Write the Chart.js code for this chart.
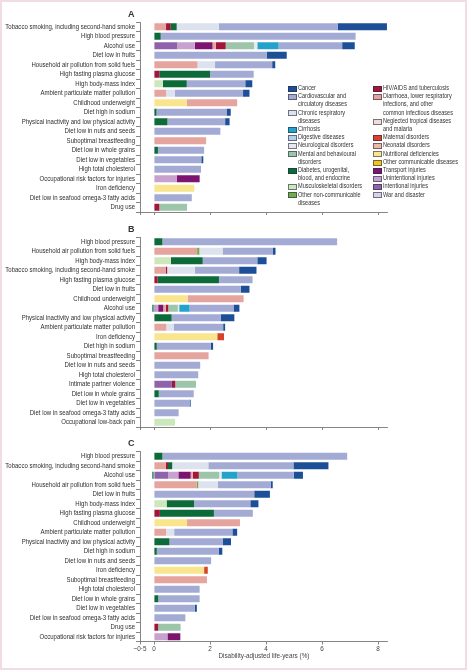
<!DOCTYPE html>
<html>
<head>
<meta charset="utf-8">
<script src="https://cdn.jsdelivr.net/npm/chart.js@4.4.1/dist/chart.umd.min.js"></script>
<style>
  body { margin: 0; background: #fff; }
  #fig { position: relative; width: 467px; height: 670px; overflow: hidden;
         font-family: "Liberation Sans", sans-serif; color: #333; }
  #fig canvas { position: absolute; left: 0; }
  .panel { position: absolute; font-weight: bold; font-size: 9px; }
  .lg { position: absolute; font-size: 6.8px; line-height: 8.2px; white-space: nowrap;
        transform: scaleX(0.82); transform-origin: 0 0; }
  .sw { position: absolute; width: 7px; height: 4px; border: 0.7px solid rgba(40,40,60,0.6); }
  #frame { position: absolute; left: 0; top: 0; right: 0; bottom: 0; border: 2px solid #f1dbe4; pointer-events: none; }
</style>
</head>
<body>
<div id="fig">
  <canvas id="chartA" width="467" height="224" style="top:0"></canvas>
  <canvas id="chartB" width="467" height="225" style="top:215px"></canvas>
  <canvas id="chartC" width="467" height="240" style="top:430px"></canvas>
  <div class="panel" style="left:128px;top:9px">A</div>
  <div class="panel" style="left:128px;top:224px">B</div>
  <div class="panel" style="left:128px;top:438px">C</div>
  <div id="legend"></div>
  <div id="frame"></div>
</div>
<script>
// cause groups (stacking order) and their colours
const causeKeys = ['intent', 'unint', 'transport', 'war', 'nutri', 'maternal', 'diarr', 'hiv', 'neonatal', 'ntd', 'othcomm',
                   'musc', 'diab', 'othncd', 'mental', 'neuro', 'resp', 'digest', 'cirr', 'cvd', 'cancer'];
const causeNames = {
  cancer: 'Cancer', cvd: 'Cardiovascular and\ncirculatory diseases', resp: 'Chronic respiratory\ndiseases',
  cirr: 'Cirrhosis', digest: 'Digestive diseases', neuro: 'Neurological disorders',
  mental: 'Mental and behavioural\ndisorders', diab: 'Diabetes, urogenital,\nblood, and endocrine',
  musc: 'Musculoskeletal disorders', othncd: 'Other non-communicable\ndiseases',
  hiv: 'HIV/AIDS and tuberculosis', diarr: 'Diarrhoea, lower respiratory\ninfections, and other\ncommon infectious diseases',
  ntd: 'Neglected tropical diseases\nand malaria', maternal: 'Maternal disorders', neonatal: 'Neonatal disorders',
  nutri: 'Nutritional deficiencies', othcomm: 'Other communicable diseases', transport: 'Transport injuries',
  unint: 'Unintentional injuries', intent: 'Intentional injuries', war: 'War and disaster'
};
const causeColors = {
  cancer: '#1d4f98', cvd: '#a3abd5', resp: '#dde2ef', cirr: '#23a3cc', digest: '#b4cfe9', neuro: '#e8e9ee',
  mental: '#9cc5a9', diab: '#0d6b3a', musc: '#cde7bd', othncd: '#72ad4b',
  hiv: '#a3163c', diarr: '#e5a49d', ntd: '#f3dcd6', maternal: '#d6422b', neonatal: '#eeb7a6',
  nutri: '#f8e58e', othcomm: '#f0c323', transport: '#7d1470', unint: '#c8a2ce', intent: '#8f63ab', war: '#d9d2e6'
};
const legendCol1 = ['cancer', 'cvd', 'resp', 'cirr', 'digest', 'neuro', 'mental', 'diab', 'musc', 'othncd'];
const legendCol2 = ['hiv', 'diarr', 'ntd', 'maternal', 'neonatal', 'nutri', 'othcomm', 'transport', 'unint', 'intent', 'war'];

const xTicks = [-0.5, 0, 2, 4, 6, 8];

// Panel A
const labelsA = ['Tobacco smoking, including second-hand smoke', 'High blood pressure', 'Alcohol use', 'Diet low in fruits',
  'Household air pollution from solid fuels', 'High fasting plasma glucose', 'High body-mass index',
  'Ambient particulate matter pollution', 'Childhood underweight', 'Diet high in sodium',
  'Physical inactivity and low physical activity', 'Diet low in nuts and seeds', 'Suboptimal breastfeeding',
  'Diet low in whole grains', 'Diet low in vegetables', 'High total cholesterol', 'Occupational risk factors for injuries',
  'Iron deficiency', 'Diet low in seafood omega-3 fatty acids', 'Drug use'];
const valuesA = [
  { diarr: 0.43, hiv: 0.17, diab: 0.21, resp: 1.51, cvd: 4.25, cancer: 1.75 },
  { diab: 0.24, cvd: 6.96 },
  { intent: 0.83, unint: 0.63, transport: 0.63, diarr: 0.12, hiv: 0.35, mental: 1.01, neuro: 0.12, cirr: 0.76, cvd: 2.27, cancer: 0.45 },
  { cvd: 4.03, cancer: 0.71 },
  { diarr: 1.55, resp: 0.63, cvd: 2.04, cancer: 0.11 },
  { hiv: 0.19, diab: 1.81, cvd: 1.56 },
  { musc: 0.32, diab: 0.85, cvd: 2.09, cancer: 0.25 },
  { diarr: 0.43, resp: 0.32, cvd: 2.43, cancer: 0.23 },
  { nutri: 1.17, diarr: 1.8 },
  { diab: 0.09, cvd: 2.5, cancer: 0.15 },
  { diab: 0.48, cvd: 2.06, cancer: 0.16 },
  { cvd: 2.37 },
  { diarr: 1.86 },
  { diab: 0.14, cvd: 1.65 },
  { cvd: 1.69, cancer: 0.07 },
  { cvd: 1.68 },
  { unint: 0.81, transport: 0.82 },
  { nutri: 1.44 },
  { cvd: 1.35 },
  { hiv: 0.19, mental: 0.99 }
];

// Panel B
const labelsB = ['High blood pressure', 'Household air pollution from solid fuels', 'High body-mass index',
  'Tobacco smoking, including second-hand smoke', 'High fasting plasma glucose', 'Diet low in fruits',
  'Childhood underweight', 'Alcohol use', 'Physical inactivity and low physical activity',
  'Ambient particulate matter pollution', 'Iron deficiency', 'Diet high in sodium', 'Suboptimal breastfeeding',
  'Diet low in nuts and seeds', 'High total cholesterol', 'Intimate partner violence', 'Diet low in whole grains',
  'Diet low in vegetables', 'Diet low in seafood omega-3 fatty acids', 'Occupational low-back pain'];
const valuesB = [
  { diab: 0.3, cvd: 6.24 },
  { diarr: 1.54, othncd: 0.08, resp: 0.83, cvd: 1.8, cancer: 0.09 },
  { musc: 0.6, diab: 1.14, cvd: 1.95, cancer: 0.33 },
  { diarr: 0.42, hiv: 0.05, resp: 0.99, cvd: 1.58, cancer: 0.62 },
  { hiv: 0.13, diab: 2.19, cvd: 1.2 },
  { cvd: 3.1, cancer: 0.31 },
  { nutri: 1.2, diarr: 2.0 },
  { diab: -0.06, intent: 0.05, unint: 0.1, transport: 0.18, diarr: 0.09, hiv: 0.09, mental: 0.34, neuro: 0.05, cirr: 0.37, cvd: 1.57, cancer: 0.21 },
  { diab: 0.63, cvd: 1.75, cancer: 0.49 },
  { diarr: 0.44, resp: 0.26, cvd: 1.77, cancer: 0.07 },
  { nutri: 2.26, maternal: 0.24 },
  { diab: 0.1, cvd: 1.93, cancer: 0.08 },
  { diarr: 1.95 },
  { cvd: 1.65 },
  { cvd: 1.58 },
  { intent: 0.64, hiv: 0.12, mental: 0.74 },
  { diab: 0.17, cvd: 1.25 },
  { cvd: 1.27, cancer: 0.04 },
  { cvd: 0.88 },
  { musc: 0.75 }
];

// Panel C
const labelsC = ['High blood pressure', 'Tobacco smoking, including second-hand smoke', 'Alcohol use',
  'Household air pollution from solid fuels', 'Diet low in fruits', 'High body-mass index', 'High fasting plasma glucose',
  'Childhood underweight', 'Ambient particulate matter pollution', 'Physical inactivity and low physical activity',
  'Diet high in sodium', 'Diet low in nuts and seeds', 'Iron deficiency', 'Suboptimal breastfeeding',
  'High total cholesterol', 'Diet low in whole grains', 'Diet low in vegetables',
  'Diet low in seafood omega-3 fatty acids', 'Drug use', 'Occupational risk factors for injuries'];
const valuesC = [
  { diab: 0.3, cvd: 6.6 },
  { diarr: 0.42, hiv: 0.08, diab: 0.15, resp: 1.29, cvd: 3.04, cancer: 1.25 },
  { diab: -0.06, intent: 0.51, unint: 0.36, transport: 0.44, diarr: 0.08, hiv: 0.21, mental: 0.73, neuro: 0.08, cirr: 0.57, cvd: 2.01, cancer: 0.33 },
  { diarr: 1.52, othncd: 0.06, resp: 0.7, cvd: 1.89, cancer: 0.07 },
  { cvd: 3.58, cancer: 0.56 },
  { musc: 0.45, diab: 0.98, cvd: 2.01, cancer: 0.29 },
  { hiv: 0.21, diab: 1.93, cvd: 1.39 },
  { nutri: 1.18, diarr: 1.89 },
  { diarr: 0.43, resp: 0.29, cvd: 2.08, cancer: 0.17 },
  { diab: 0.55, cvd: 1.9, cancer: 0.3 },
  { diab: 0.1, cvd: 2.21, cancer: 0.13 },
  { cvd: 2.04 },
  { nutri: 1.79, maternal: 0.13 },
  { diarr: 1.89 },
  { cvd: 1.63 },
  { diab: 0.15, cvd: 1.48 },
  { cvd: 1.46, cancer: 0.07 },
  { cvd: 1.12 },
  { hiv: 0.15, mental: 0.8 },
  { unint: 0.48, transport: 0.46 }
];

const FONT = '"Liberation Sans", sans-serif';
const AXIS = '#666';

function fmtTick(v) {
  return v < 0 ? '\u2212' + String(-v).replace('.', '\u00b7') : String(v);
}

// no narrow font installed: squeeze canvas text horizontally around its anchor point
const narrowText = {
  id: 'narrowText',
  beforeInit(chart) {
    const ctx = chart.ctx;
    const orig = ctx.fillText.bind(ctx);
    ctx.fillText = (text, x, y) => {
      ctx.save();
      ctx.translate(x, y);
      ctx.scale(0.85, 1);
      orig(text, 0, 0);
      ctx.restore();
    };
  }
};

function makeChart(id, labels, rows, o) {
  const datasets = causeKeys
    .map(k => ({
      label: causeNames[k],
      data: rows.map(r => (k in r ? r[k] : null)),
      backgroundColor: causeColors[k],
      borderWidth: 0,
      barPercentage: 0.74,
      categoryPercentage: 1
    }))
    .filter(d => d.data.some(v => v !== null));

  return new Chart(document.getElementById(id), {
    type: 'bar',
    data: { labels, datasets },
    plugins: [narrowText],
    options: {
      indexAxis: 'y',
      responsive: false,
      animation: false,
      layout: { padding: { top: o.top, right: 79.2, bottom: o.bottom, left: 0 } },
      plugins: { legend: { display: false }, tooltip: { enabled: false } },
      scales: {
        x: {
          type: 'linear', stacked: true, min: -0.5, max: 8.35,
          afterBuildTicks: s => { s.ticks = xTicks.map(v => ({ value: v })); },
          afterFit: s => { s.height = o.xHeight; s.paddingLeft = 0; s.paddingRight = 0; },
          grid: { drawOnChartArea: false, tickLength: 3, color: AXIS, lineWidth: 0.8 },
          border: { color: AXIS, width: 0.8 },
          ticks: { display: o.showTicks, padding: 0, color: '#444', font: { family: FONT, size: 7.5 }, callback: v => fmtTick(v) },
          title: { display: o.showTicks, text: 'Disability-adjusted life-years (%)', color: '#444',
                   font: { family: FONT, size: 7.5 }, padding: { top: 0, bottom: 0 } }
        },
        y: {
          stacked: true,
          afterFit: s => { s.width = 140; s.paddingTop = 0; s.paddingBottom = 0; },
          grid: { drawOnChartArea: false, tickLength: 4, color: AXIS, lineWidth: 0.8 },
          border: { color: AXIS, width: 0.8 },
          ticks: { autoSkip: false, padding: 1, color: '#2e2e2e', font: { family: FONT, size: 7.1 } }
        }
      }
    }
  });
}

makeChart('chartA', labelsA, valuesA, { top: 22, bottom: 0, xHeight: 12, showTicks: false });
makeChart('chartB', labelsB, valuesB, { top: 22, bottom: 0, xHeight: 13, showTicks: false });
makeChart('chartC', labelsC, valuesC, { top: 21.5, bottom: 10, xHeight: 18.5, showTicks: true });

// legend (two columns inside panel A)
const legend = document.getElementById('legend');
function addColumn(keys, swX, txtX) {
  let line = 0;
  keys.forEach(k => {
    const top = 88 - 4.1 + line * 8.2;
    const sw = document.createElement('div');
    sw.className = 'sw';
    sw.style.left = swX + 'px';
    sw.style.top = (top + 1.8) + 'px';
    sw.style.background = causeColors[k];
    legend.appendChild(sw);
    const t = document.createElement('div');
    t.className = 'lg';
    t.style.left = txtX + 'px';
    t.style.top = top + 'px';
    t.innerHTML = causeNames[k].split('\n').join('<br>');
    legend.appendChild(t);
    line += causeNames[k].split('\n').length;
  });
}
addColumn(legendCol1, 288, 298);
addColumn(legendCol2, 373, 383);
</script>
</body>
</html>
